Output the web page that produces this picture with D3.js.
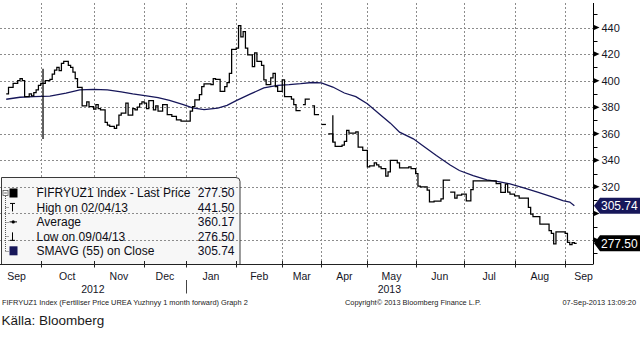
<!DOCTYPE html>
<html>
<head>
<meta charset="utf-8">
<script src="https://cdn.jsdelivr.net/npm/d3@7"></script>
<style>
  html, body { margin: 0; padding: 0; background: #fff; }
  svg { display: block; font-family: "Liberation Sans", Arial, sans-serif; }
</style>
</head>
<body>
<svg id="chart" width="643" height="340"></svg>
<script>
// ---- Session calendar: index of the first trading session of each month (Sep 2012 .. Sep 2013, plus end) ----
const monthLabels = ["Sep", "Oct", "Nov", "Dec", "Jan", "Feb", "Mar", "Apr", "May", "Jun", "Jul", "Aug", "Sep"];
const monthStart  = [-6, 15, 38, 60, 78, 100, 120, 137, 157, 178, 199, 221, 243, 259];
const yearLabels  = ["2012", "2013"];
const yearStart   = [-6, 78, 259];

// ---- FIFRYUZ1 last price: session index where the price changes, new level (null = no quote) ----
const priceDay = [
  0, 1, 3, 5, 6, 7, 8, 10, 11, 12, 13, 14, 15, 17, 19, 20, 21, 22, 23, 24, 25, 27, 28, 29, 30, 31,
  33, 35, 36, 38, 39, 40, 41, 43, 44, 45, 47, 48, 49, 50, 52, 53, 55, 56, 57, 58, 59, 60, 61,
  62, 64, 65, 66, 68, 70, 72, 74, 76, 80, 81, 82, 84, 85, 86, 89, 90, 91, 93, 95, 96, 97, 98,
  100, 101, 102, 103, 104, 105, 107, 108, 109, 111, 112, 113, 115, 116, 117, 118, 120, 121, 124, 125, 126, 128,
  129, 130, 132, 133, 134, 136, 137, 139, 140, 142, 143, 146, 147, 148, 149, 152, 153, 155,
  157, 158, 160, 161, 162, 163, 165, 166, 167, 170, 171, 175, 176, 178, 179, 180, 183, 184, 186, 189, 190, 193,
  193.0001, 195, 196, 198, 200, 202, 203, 213, 215, 217, 218, 219, 221, 223, 227, 228, 229, 232, 236, 237, 238, 239,
  243, 244, 245, 246, 247, 248
];
const priceClose = [
  390, 395, 398, 400, 401.5, 400, 388, 390, 388.5, 391, 393, 396.5, 398, 400, 401, 405, 408, 410, 407.5, 413, 414.5, 411.5, 410, 406.5, 401.5, 395,
  381, 384, 380.5, 378.5, 382, 379, 378, 368.5, 366.5, 365.5, 364, 366.5, 374, 375.5, 383, 374, 379, 378, 380, 382.5, 384, 383, 379,
  385, 378, 381, 377, 382, 374.5, 373, 370.5, 369.5, 377, 380.5, 385.5, 389.5, 395.5, 397.5, 397, 401.5, 401, 392, 395.5, 398.5, 405.5, 423.5,
  424.5, 441.5, 433, 437, 424.5, 419.5, 410.5, 421, 414.5, 411.5, 400.5, 397, 402, 405.5, 395.5, 392, 400.5, 388, 386, 382, 377.5, null,
  382, 386, null, 381, 374.5, null, 367, null, 360, 353.75, 350.5, 351.5, 354.25, 362.5, 360.5, 361.5, 350, 347.5,
  335, 335.75, 338, 336.5, 335, 333.75, 328, 331.25, 340, 338, 334.25, 335, 333.75, 330, 320.5, 320, 317.5, 308.75, 309.25, 311, 325, null,
  316, 311.5, 313.75, 314.5, 309.5, 318, 324.5, 322.5, 315.75, 322, 316, 314.5, 313.25, 311.5, 304.5, 299.5, 297.5, 292, 287, 285, 277, 286,
  285, 278.25, 276.5, 278, 277.5, null
];

// ---- Single-session high/low wicks ----
const spikeDay  = [16, 142];
const spikeHigh = [409, 374];
const spikeLow  = [356, 354];

// ---- SMAVG (55) on close ----
const maDay = [0, 6, 12, 19, 26, 32, 38, 44, 50, 55, 61, 66, 71, 77, 81, 86, 92, 96, 100, 106, 112, 118, 123, 128,
  133, 137, 142, 147, 152, 157, 163, 167, 171, 177, 181, 187, 193, 197, 203, 209, 214, 219, 225, 231, 237, 242, 245, 247];
const maValue = [386, 387.5, 388, 388.4, 390.6, 393, 393.4, 393, 391.5, 390, 388.5, 387.2, 385.1, 382, 379.5, 378.2, 379.3, 381.4, 385, 389.8, 394.5, 396.5, 397, 397.7,
  398.6, 398.4, 395.2, 390.7, 388, 382.6, 373.8, 368, 361.2, 356.2, 351.2, 343.6, 336.5, 332.3, 328.5, 325.3, 324, 322.3, 319.2, 316, 312.7, 309.7, 308.5, 305.74];

// ---- Axis ticks ----
const yTicks = [280, 300, 320, 340, 360, 380, 400, 420, 440];
const yMinorTicks = [270, 290, 310, 330, 350, 370, 390, 410, 430, 450];

// ---- Legend ----
const legendLabels = ["FIFRYUZ1 Index - Last Price", "High on 02/04/13", "Average", "Low on 09/04/13", "SMAVG (55) on Close"];
const averagePrice = 360.17;

const svg = d3.select("#chart");
const plot = { left: 0, right: 593, top: 3, bottom: 264.5 };

const x = d3.scaleLinear().domain([-2.7, 255.1]).range([plot.left, plot.right]);
const y = d3.scaleLinear().domain([261.5, 458.5]).range([plot.bottom, plot.top]);

const priceNavy = "#17175a";
const gridColor = "#8c8c8c";
const crisp = v => Math.round(v) + 0.5;

// price points and stats
const pricePts = priceDay.map((d, i) => ({ d, v: priceClose[i] }));
const quoted = pricePts.filter(p => p.v != null);
const lastPrice = quoted[quoted.length - 1].v;
const highPrice = d3.max(quoted, p => p.v);
const lowPrice = d3.min(quoted, p => p.v);
const lastMA = maValue[maValue.length - 1];

// ---- vertical grid at month boundaries ----
const innerMonths = monthStart.slice(1, -1);
svg.append("g").selectAll("line").data(innerMonths).join("line")
  .attr("x1", d => crisp(x(d))).attr("x2", d => crisp(x(d)))
  .attr("y1", plot.top).attr("y2", plot.bottom)
  .attr("stroke", gridColor).attr("stroke-width", 1).attr("stroke-dasharray", "2,2");

// ---- legend background ----
const leg = { x0: 1.5, x1: 240, y0: 177.5, y1: plot.bottom, r: 4 };
svg.append("path")
  .attr("d", `M${leg.x0},${leg.y1} V${leg.y0} H${leg.x1 - leg.r} Q${leg.x1},${leg.y0} ${leg.x1},${leg.y0 + leg.r} V${leg.y1} Z`)
  .attr("fill", "#f7f7f7");

// ---- horizontal grid ----
svg.append("g").selectAll("line").data(yTicks).join("line")
  .attr("x1", plot.left).attr("x2", plot.right)
  .attr("y1", d => crisp(y(d))).attr("y2", d => crisp(y(d)))
  .attr("stroke", gridColor).attr("stroke-width", 1).attr("stroke-dasharray", "2,2");

// ---- moving average ----
const maLine = d3.line().x((d, i) => x(maDay[i])).y(d => y(d)).curve(d3.curveLinear);
svg.append("path").attr("d", maLine(maValue))
  .attr("fill", "none").attr("stroke", priceNavy).attr("stroke-width", 1.3);

// ---- price steps (split at missing quotes) ----
const runs = [];
let cur = null;
pricePts.forEach(p => {
  if (p.v == null) {
    if (cur) { cur.push({ d: p.d, v: cur[cur.length - 1].v }); runs.push(cur); cur = null; }
  } else {
    if (!cur) cur = [];
    cur.push(p);
  }
});
if (cur) runs.push(cur);
const stepLine = d3.line().x(p => x(p.d)).y(p => y(p.v)).curve(d3.curveStepAfter);
svg.append("g").selectAll("path").data(runs).join("path")
  .attr("d", stepLine)
  .attr("fill", "none").attr("stroke", "#000").attr("stroke-width", 1.25);

// ---- wicks ----
svg.append("g").selectAll("line").data(spikeDay).join("line")
  .attr("x1", d => x(d)).attr("x2", d => x(d))
  .attr("y1", (d, i) => y(spikeHigh[i])).attr("y2", (d, i) => y(spikeLow[i]))
  .attr("stroke", "#000").attr("stroke-width", 1.25);

// ---- legend frame and content ----
svg.append("path")
  .attr("d", `M${leg.x0},${leg.y1} V${leg.y0} H${leg.x1 - leg.r} Q${leg.x1},${leg.y0} ${leg.x1},${leg.y0 + leg.r} V${leg.y1}`)
  .attr("fill", "none").attr("stroke", "#3a3a3a").attr("stroke-width", 1);

const rowBase = d3.range(legendLabels.length).map(i => 197.3 + i * 14.45);
const rowMid = rowBase.map(b => b - 4.3);
const lg = svg.append("g");
// tree connector
lg.append("rect").attr("x", 3).attr("y", rowMid[0] - 2.5).attr("width", 5).attr("height", 5)
  .attr("fill", "#fff").attr("stroke", "#555").attr("stroke-width", 0.8);
lg.append("line").attr("x1", 4.2).attr("x2", 6.8).attr("y1", rowMid[0]).attr("y2", rowMid[0])
  .attr("stroke", "#333").attr("stroke-width", 0.8);
lg.append("line").attr("x1", 5.5).attr("x2", 5.5).attr("y1", rowMid[0] + 3).attr("y2", rowMid[4])
  .attr("stroke", "#555").attr("stroke-width", 1).attr("stroke-dasharray", "1,1");
lg.selectAll("line.stub").data(rowMid.slice(1)).join("line").attr("class", "stub")
  .attr("x1", 5.5).attr("x2", 9).attr("y1", d => Math.round(d) + 0.5).attr("y2", d => Math.round(d) + 0.5)
  .attr("stroke", "#555").attr("stroke-width", 1).attr("stroke-dasharray", "1,1");
// icons
lg.append("rect").attr("x", 9.5).attr("y", rowMid[0] - 4.5).attr("width", 8).attr("height", 9).attr("fill", "#000");
lg.append("path").attr("d", `M10,${rowMid[1] - 4} H15 M12.5,${rowMid[1] - 4} V${rowMid[1] + 4}`)
  .attr("stroke", "#000").attr("stroke-width", 1).attr("fill", "none");
lg.append("path").attr("d", `M9.5,${rowMid[2]} H17`).attr("stroke", "#000").attr("stroke-width", 1);
lg.append("circle").attr("cx", 13.2).attr("cy", rowMid[2]).attr("r", 1.6).attr("fill", "#000");
lg.append("path").attr("d", `M12.5,${rowMid[3] - 4} V${rowMid[3] + 4} M10,${rowMid[3] + 4} H15`)
  .attr("stroke", "#000").attr("stroke-width", 1).attr("fill", "none");
lg.append("rect").attr("x", 9.5).attr("y", rowMid[4] - 4.5).attr("width", 8).attr("height", 9).attr("fill", priceNavy);
// labels and values
const legendValues = [lastPrice, highPrice, averagePrice, lowPrice, lastMA];
lg.selectAll("text.lab").data(legendLabels).join("text").attr("class", "lab")
  .attr("x", 36.5).attr("y", (d, i) => rowBase[i])
  .attr("font-size", 12).attr("fill", "#0d0d14").text(d => d);
lg.selectAll("text.val").data(legendValues).join("text").attr("class", "val")
  .attr("x", 234.5).attr("y", (d, i) => rowBase[i]).attr("text-anchor", "end")
  .attr("font-size", 12).attr("fill", "#0d0d1e").text(d => d3.format(".2f")(d));

// ---- bottom axis ----
const ax = svg.append("g");
ax.append("line").attr("x1", plot.left).attr("x2", plot.right)
  .attr("y1", plot.bottom).attr("y2", plot.bottom).attr("stroke", "#222").attr("stroke-width", 1);
ax.selectAll("line.tick").data(innerMonths).join("line").attr("class", "tick")
  .attr("x1", d => crisp(x(d))).attr("x2", d => crisp(x(d)))
  .attr("y1", plot.bottom - 3.5).attr("y2", plot.bottom + 3)
  .attr("stroke", "#222").attr("stroke-width", 1);
ax.selectAll("text.month").data(monthLabels).join("text").attr("class", "month")
  .attr("x", (d, i) => x((monthStart[i] + monthStart[i + 1]) / 2))
  .attr("y", 279.5).attr("text-anchor", "middle")
  .attr("font-size", 10.5).attr("fill", "#15151f").text(d => d);
// year labels centred on the visible part of each year
const [dLo, dHi] = x.domain();
ax.selectAll("text.year").data(yearLabels).join("text").attr("class", "year")
  .attr("x", (d, i) => x((Math.max(yearStart[i], dLo) + Math.min(yearStart[i + 1], dHi)) / 2))
  .attr("y", 292.5).attr("text-anchor", "middle")
  .attr("font-size", 10.5).attr("fill", "#15151f").text(d => d);
// year separator
ax.selectAll("line.yearsep").data(yearStart.slice(1, -1)).join("line").attr("class", "yearsep")
  .attr("x1", d => crisp(x(d))).attr("x2", d => crisp(x(d)))
  .attr("y1", 280).attr("y2", 293.5).attr("stroke", "#444").attr("stroke-width", 1);

// ---- last value tags ----
const tags = [
  { v: lastMA, fill: priceNavy },
  { v: lastPrice, fill: "#000" }
];

// ---- right axis ----
const ra = svg.append("g");
ra.append("line").attr("x1", crisp(plot.right)).attr("x2", crisp(plot.right))
  .attr("y1", plot.top).attr("y2", plot.bottom).attr("stroke", "#000").attr("stroke-width", 1);
ra.selectAll("line.minor").data(yMinorTicks).join("line").attr("class", "minor")
  .attr("x1", plot.right).attr("x2", plot.right + 4.5)
  .attr("y1", d => crisp(y(d))).attr("y2", d => crisp(y(d)))
  .attr("stroke", "#000").attr("stroke-width", 1);
ra.selectAll("path.major").data(yTicks).join("path").attr("class", "major")
  .attr("d", d => `M${plot.right},${y(d) - 3} L${plot.right + 6.5},${y(d)} L${plot.right},${y(d) + 3} Z`)
  .attr("fill", "#000");
// tick labels that would sit under a value tag are left out
const freeTicks = yTicks.filter(t => tags.every(g => Math.abs(y(t) - y(g.v)) > 12));
ra.selectAll("text").data(freeTicks).join("text")
  .attr("x", 601.5).attr("y", d => y(d)).attr("dy", "0.36em")
  .attr("font-size", 11).attr("fill", "#15151f").text(d => d);

const tg = svg.append("g").selectAll("g").data(tags).join("g");
tg.append("path")
  .attr("d", t => { const c = y(t.v); return `M${plot.right + 1},${c} L${plot.right + 7},${c - 8} H640 V${c + 8} H${plot.right + 7} Z`; })
  .attr("fill", t => t.fill);
tg.append("text").attr("x", 601).attr("y", t => y(t.v)).attr("dy", "0.36em")
  .attr("font-size", 12).attr("fill", "#fff").text(t => d3.format(".2f")(t.v));

// ---- footer ----
const ft = svg.append("g").attr("fill", "#222");
ft.append("text").attr("x", 2).attr("y", 304.5).attr("font-size", 7.4)
  .text("FIFRYUZ1 Index (Fertiliser Price UREA Yuzhnyy 1 month forward) Graph 2");
ft.append("text").attr("x", 345).attr("y", 304.5).attr("font-size", 7.4)
  .text("Copyright\u00A9 2013 Bloomberg Finance L.P.");
ft.append("text").attr("x", 636).attr("y", 304.5).attr("font-size", 7.4).attr("text-anchor", "end")
  .text("07-Sep-2013 13:09:20");
svg.append("text").attr("x", 1.5).attr("y", 325).attr("font-size", 13.5).attr("fill", "#1a1a1a")
  .text("Källa: Bloomberg");
</script>
</body>
</html>
